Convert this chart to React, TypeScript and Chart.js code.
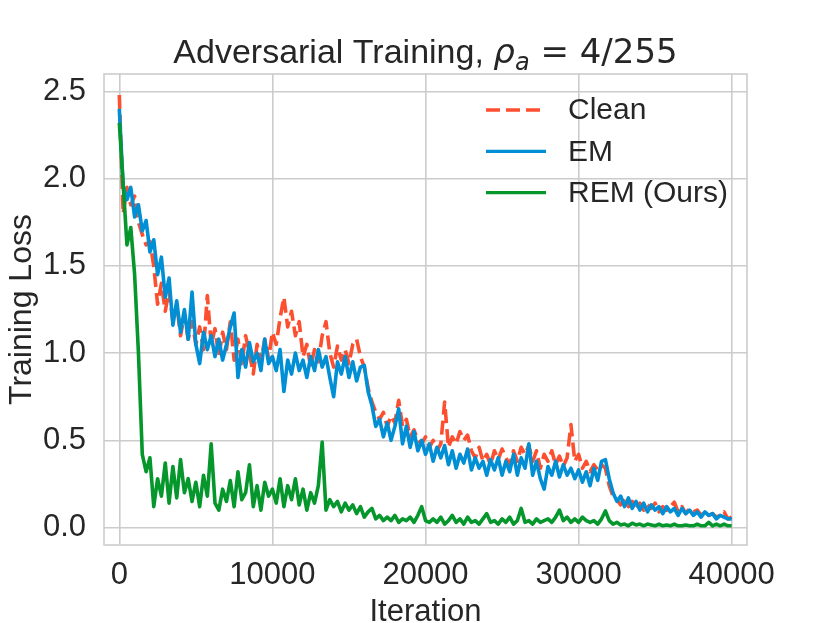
import React, { useEffect, useRef } from "react";
import { Chart, registerables, Plugin } from "chart.js";

Chart.register(...registerables);

// loss is logged every 250 iterations, 0 .. 40000
const LOG_EVERY = 250;

const cleanLoss = [
  2.48, 1.8, 1.95, 1.85, 1.9, 1.75, 1.68, 1.62, 1.64, 1.5,
  1.28, 1.4, 1.24, 1.36, 1.18, 1.28, 1.1, 1.22, 1.08, 1.18,
  1.05, 1.15, 1.02, 1.33, 1.05, 1.14, 0.98, 1.12, 1.02, 1.18,
  0.96, 1.08, 0.94, 1.1, 1.0, 0.88, 1.05, 0.95, 1.08, 0.97,
  1.12, 1.05, 1.2, 1.32, 1.15, 1.24, 1.1, 1.18, 0.98, 1.05,
  0.92, 1.02, 0.95, 1.1, 1.18, 1.0, 0.92, 1.04, 0.96, 1.02,
  0.94, 1.05, 1.08, 0.98, 0.92, 0.8, 0.72, 0.66, 0.62, 0.66,
  0.58, 0.64, 0.6, 0.73, 0.58, 0.62, 0.52, 0.56, 0.5, 0.48,
  0.52, 0.46, 0.5, 0.44, 0.48, 0.72, 0.46, 0.52, 0.48, 0.55,
  0.5, 0.53, 0.44, 0.4, 0.46, 0.38, 0.42, 0.36, 0.44, 0.39,
  0.45, 0.4, 0.36, 0.44, 0.38, 0.46, 0.42, 0.47, 0.38, 0.44,
  0.34, 0.42, 0.38, 0.44, 0.36, 0.41, 0.35, 0.4, 0.59, 0.38,
  0.42, 0.34, 0.38, 0.32, 0.36, 0.33, 0.36, 0.34, 0.24, 0.18,
  0.16, 0.13, 0.17, 0.12, 0.15, 0.11, 0.14, 0.1, 0.13, 0.11,
  0.14, 0.09, 0.12, 0.1, 0.12, 0.145, 0.09, 0.12, 0.08, 0.11,
  0.09, 0.1, 0.07, 0.09, 0.07, 0.08, 0.06, 0.07, 0.09, 0.05,
  0.06,
];

const emLoss = [
  2.4, 1.96, 1.88, 1.95, 1.78, 1.85, 1.7, 1.76, 1.58, 1.65,
  1.45, 1.55, 1.32, 1.43, 1.16, 1.3, 1.12, 1.25, 1.08, 1.35,
  1.05, 0.94, 1.12, 1.02, 1.1, 0.98, 1.08, 0.96, 1.05, 1.15,
  1.23, 0.86, 1.02, 0.92, 1.06, 0.95, 1.0, 0.9, 1.08, 0.94,
  0.98, 0.9, 1.02, 0.78, 0.96, 0.88, 1.0, 0.9, 0.96, 0.86,
  0.98, 0.9, 1.02, 0.92, 0.98, 0.86, 0.75, 0.95, 0.88, 0.98,
  0.86, 0.95, 0.84, 0.92, 0.93, 0.78, 0.7, 0.58, 0.62, 0.52,
  0.6, 0.5, 0.58, 0.68, 0.48, 0.58, 0.46, 0.55, 0.44, 0.5,
  0.42, 0.48, 0.38, 0.46, 0.4, 0.47, 0.36, 0.44, 0.34, 0.42,
  0.37, 0.45, 0.33, 0.4, 0.34, 0.38, 0.3, 0.39, 0.33, 0.4,
  0.3, 0.38, 0.32, 0.42, 0.3, 0.4, 0.34, 0.48, 0.3, 0.38,
  0.28, 0.22, 0.35, 0.3, 0.38, 0.29, 0.36, 0.3, 0.34, 0.28,
  0.33, 0.26, 0.32, 0.24, 0.34, 0.27, 0.38, 0.39, 0.28, 0.2,
  0.15, 0.18, 0.12, 0.17, 0.11, 0.15, 0.1, 0.14, 0.09, 0.13,
  0.1, 0.12, 0.08, 0.12, 0.09, 0.11, 0.07, 0.11, 0.08, 0.1,
  0.07, 0.09, 0.06, 0.09, 0.07, 0.08, 0.05, 0.07, 0.06, 0.05,
  0.05,
];

const remLoss = [
  2.32, 1.97, 1.62, 1.72, 1.45, 1.0, 0.42, 0.32, 0.4, 0.12,
  0.28, 0.18, 0.37, 0.14, 0.35, 0.17, 0.39, 0.2, 0.28, 0.15,
  0.26, 0.12, 0.3, 0.18, 0.48, 0.14, 0.1, 0.22, 0.15, 0.27,
  0.12, 0.32, 0.16, 0.2, 0.36, 0.12, 0.24, 0.1, 0.26, 0.18,
  0.22, 0.14, 0.28, 0.12, 0.24, 0.16, 0.28, 0.13, 0.22, 0.1,
  0.2, 0.14, 0.24, 0.49, 0.1, 0.16, 0.12, 0.15, 0.09, 0.14,
  0.1, 0.13, 0.08, 0.12, 0.06, 0.09, 0.11, 0.05, 0.07, 0.04,
  0.06, 0.04, 0.07, 0.03, 0.05, 0.04, 0.06, 0.03, 0.07, 0.12,
  0.04, 0.03, 0.05, 0.03, 0.06, 0.02, 0.04, 0.07, 0.03, 0.05,
  0.02, 0.06, 0.03, 0.04, 0.02, 0.05, 0.08, 0.03, 0.04, 0.02,
  0.05, 0.03, 0.06, 0.02, 0.04, 0.11, 0.03, 0.04, 0.02, 0.05,
  0.03, 0.04, 0.05, 0.03, 0.06, 0.1, 0.04, 0.06, 0.03, 0.05,
  0.03, 0.06, 0.04, 0.03, 0.04, 0.02, 0.05, 0.095, 0.04, 0.02,
  0.03, 0.015, 0.02, 0.01, 0.025, 0.015, 0.02, 0.01, 0.02, 0.015,
  0.01, 0.02, 0.01, 0.015, 0.01, 0.02, 0.01, 0.01, 0.015, 0.01,
  0.01, 0.02, 0.01, 0.01, 0.03, 0.01, 0.02, 0.01, 0.02, 0.01,
  0.01,
];

const iterations = cleanLoss.map((_, i) => i * LOG_EVERY);

const xTicks = [0, 10000, 20000, 30000, 40000];
const yTicks = [0, 0.5, 1.0, 1.5, 2.0, 2.5];

const FONT = "'Liberation Sans', Arial, sans-serif";
const MATH_FONT = "'DejaVu Sans', sans-serif";
const TEXT = "#262626";
const GRID = "#cccccc";
const LINE_W = 3.6;

// title with the math part (rho subscript a), like matplotlib mathtext
const titlePlugin: Plugin<"line"> = {
  id: "mathTitle",
  afterDraw(chart) {
    const { ctx, chartArea } = chart;
    const parts = [
      { text: "Adversarial Training, ", font: `34px ${FONT}`, dy: 0 },
      { text: "ρ", font: `italic 34px ${MATH_FONT}`, dy: 0 },
      { text: "a", font: `italic 24px ${MATH_FONT}`, dy: 7 },
      { text: " = 4/255", font: `34px ${MATH_FONT}`, dy: 0 },
    ];
    ctx.save();
    let total = 0;
    const widths = parts.map(p => {
      ctx.font = p.font;
      const w = ctx.measureText(p.text).width;
      total += w;
      return w;
    });
    let x = (chartArea.left + chartArea.right) / 2 - total / 2;
    ctx.fillStyle = TEXT;
    ctx.textBaseline = "alphabetic";
    ctx.textAlign = "left";
    parts.forEach((p, i) => {
      ctx.font = p.font;
      ctx.fillText(p.text, x, 63 + p.dy);
      x += widths[i];
    });
    ctx.restore();
  },
};

// legend inside the axes, top right, no frame
const legendPlugin: Plugin<"line"> = {
  id: "insideLegend",
  afterDraw(chart) {
    const { ctx, chartArea } = chart;
    chart.data.datasets.forEach((ds: any, i) => {
      const y = chartArea.top + 36 + i * 41.3;
      const x0 = chartArea.right - 261;
      ctx.save();
      ctx.strokeStyle = ds.borderColor;
      ctx.lineWidth = 3.3;
      ctx.setLineDash(ds.borderDash || []);
      ctx.beginPath();
      ctx.moveTo(x0, y);
      ctx.lineTo(x0 + 60, y);
      ctx.stroke();
      ctx.setLineDash([]);
      ctx.fillStyle = TEXT;
      ctx.font = `30px ${FONT}`;
      ctx.textBaseline = "middle";
      ctx.fillText(ds.label, x0 + 82, y + 1);
      ctx.restore();
    });
  },
};

// all four spines
const framePlugin: Plugin<"line"> = {
  id: "frame",
  beforeDatasetsDraw(chart) {
    const { ctx, chartArea } = chart;
    ctx.save();
    ctx.strokeStyle = GRID;
    ctx.lineWidth = 1.6;
    ctx.strokeRect(chartArea.left, chartArea.top, chartArea.right - chartArea.left, chartArea.bottom - chartArea.top);
    ctx.restore();
  },
};

const App: React.FC = () => {
  const canvas = useRef<HTMLCanvasElement>(null);

  useEffect(() => {
    const chart = new Chart(canvas.current!.getContext("2d")!, {
      type: "line",
      data: {
        datasets: [
          {
            label: "Clean",
            data: iterations.map((x, i) => ({ x, y: cleanLoss[i] })),
            borderColor: "#fc4f30",
            borderWidth: LINE_W,
            borderDash: [14, 6],
            order: 2,
          },
          {
            label: "EM",
            data: iterations.map((x, i) => ({ x, y: emLoss[i] })),
            borderColor: "#008fd5",
            borderWidth: LINE_W,
            order: 1,
          },
          {
            label: "REM (Ours)",
            data: iterations.map((x, i) => ({ x, y: remLoss[i] })),
            borderColor: "#05962c",
            borderWidth: LINE_W,
            order: 0,
          },
        ],
      },
      options: {
        responsive: false,
        animation: false,
        layout: {
          padding: { top: 74, right: 83, left: 0, bottom: 0 },
        },
        elements: {
          line: { tension: 0, borderJoinStyle: "round" },
          point: { radius: 0 },
        },
        scales: {
          x: {
            type: "linear",
            min: -1000,
            max: 41000,
            afterBuildTicks: s => {
              s.ticks = xTicks.map(value => ({ value }));
            },
            afterFit: s => {
              s.height = 78;
            },
            border: { display: false },
            grid: { color: GRID, lineWidth: 1.6, drawTicks: false },
            ticks: {
              padding: 12,
              color: TEXT,
              font: { family: FONT, size: 31 },
              maxRotation: 0,
              callback: v => String(v),
            },
            title: {
              display: true,
              text: "Iteration",
              color: TEXT,
              font: { family: FONT, size: 31, lineHeight: 0.7 },
              padding: 0,
            },
          },
          y: {
            type: "linear",
            min: -0.1,
            max: 2.6,
            afterBuildTicks: s => {
              s.ticks = yTicks.map(value => ({ value }));
            },
            afterFit: s => {
              s.width = 104;
            },
            border: { display: false },
            grid: { color: GRID, lineWidth: 1.6, drawTicks: false },
            ticks: {
              padding: 18,
              color: TEXT,
              font: { family: FONT, size: 31 },
              callback: v => Number(v).toFixed(1),
            },
            title: {
              display: true,
              text: "Training Loss",
              color: TEXT,
              font: { family: FONT, size: 32, lineHeight: 1.2 },
              padding: { top: 3, bottom: 0 },
            },
          },
        },
        plugins: {
          legend: { display: false },
          title: { display: false },
          tooltip: { enabled: false },
        },
      },
      plugins: [framePlugin, titlePlugin, legendPlugin],
    });

    return () => {
      chart.destroy();
    };
  }, []);

  return (
    <div style={{ position: "fixed", left: 0, top: 0, width: 830, height: 623, background: "#fff" }}>
      <canvas ref={canvas} width={830} height={623}></canvas>
    </div>
  );
};

export default App;
